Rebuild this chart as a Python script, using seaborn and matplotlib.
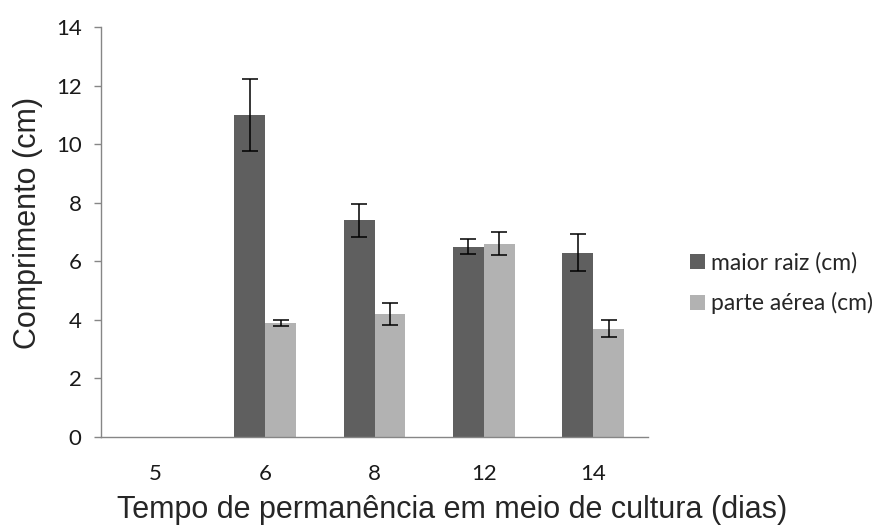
import numpy as np
import pandas as pd
import matplotlib
matplotlib.use("Agg")
import matplotlib.pyplot as plt
import seaborn as sns

# ---------------------------------------------------------
# dados
# ---------------------------------------------------------
dias = ["5", "6", "8", "12", "14"]
series = ["maior raiz (cm)", "parte aérea (cm)"]

raiz = [np.nan, 11.0, 7.4, 6.5, 6.3]
raiz_err = [np.nan, 1.22, 0.56, 0.25, 0.62]

aerea = [np.nan, 3.9, 4.2, 6.6, 3.7]
aerea_err = [np.nan, 0.10, 0.36, 0.40, 0.28]

cores = ["#5f5f5f", "#b2b2b2"]

df = pd.DataFrame({
    "dias": dias * 2,
    "serie": [series[0]] * len(dias) + [series[1]] * len(dias),
    "valor": raiz + aerea,
    "erro": raiz_err + aerea_err,
})
df = df.dropna()

# ---------------------------------------------------------
# grafico
# ---------------------------------------------------------
sns.set_style("white")
plt.rcParams["font.family"] = ["Lato", "DejaVu Sans"]

fig = plt.figure(figsize=(8.88, 5.25), dpi=100)
ax = fig.add_axes([101 / 888, 1 - 437 / 525, 547 / 888, 410 / 525])

sns.barplot(data=df, x="dias", y="valor", hue="serie", order=dias,
            hue_order=series, palette=cores, width=0.566, gap=0,
            errorbar=None, saturation=1, edgecolor="none", ax=ax)

# barras de erro a partir das barras desenhadas
for cont, s in zip(ax.containers, series):
    sub = df[df["serie"] == s]
    xs = [b.get_x() + b.get_width() / 2 for b in cont]
    ys = [b.get_height() for b in cont]
    ax.errorbar(xs, ys, yerr=sub["erro"].values, fmt="none", ecolor="black",
                elinewidth=1.1, capsize=6, capthick=1.1, zorder=5)

ax.set_ylim(0, 14)
ax.set_yticks(range(0, 15, 2))
ax.set_xlim(-0.5, len(dias) - 0.5)

for side in ["top", "right"]:
    ax.spines[side].set_visible(False)
for side in ["left", "bottom"]:
    ax.spines[side].set_color("#868686")
    ax.spines[side].set_linewidth(1.0)

ax.tick_params(axis="y", left=True, length=5, color="#868686", width=1,
               labelsize=16, pad=9, labelcolor="#1a1a1a")
ax.tick_params(axis="x", bottom=False, labelsize=16, pad=16, labelcolor="#1a1a1a")

ax.set_ylabel("Comprimento (cm)", fontsize=22, family="Liberation Sans")
ax.yaxis.set_label_coords((43 - 101) / 547, (437 - 223) / 410)
ax.set_xlabel("Tempo de permanência em meio de cultura (dias)", fontsize=22,
              family="Liberation Sans")
ax.xaxis.set_label_coords((452 - 101) / 547, (437 - 495) / 410)

ax.legend(title=None, frameon=False, fontsize=16.5, loc="center left",
          bbox_to_anchor=(1 + 42 / 547, (437 - 283) / 410),
          handlelength=0.65, handleheight=0.65, handletextpad=0.27,
          labelspacing=0.83, borderpad=0, borderaxespad=0)

fig.savefig("out.png", dpi=100)
